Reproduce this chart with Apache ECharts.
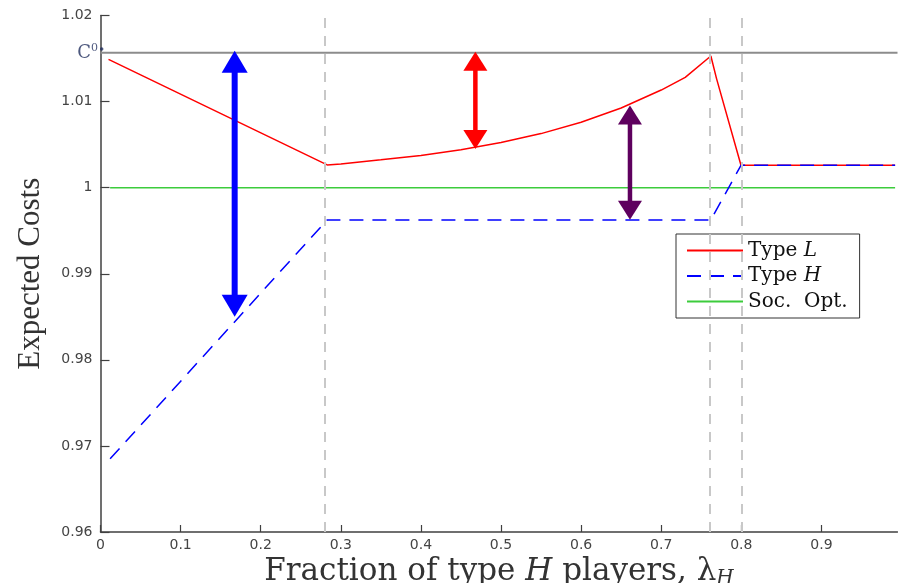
<!DOCTYPE html>
<html>
<head>
<meta charset="utf-8">
<script src="https://cdn.jsdelivr.net/npm/echarts@6/dist/echarts.min.js"></script>
<style>html,body{margin:0;padding:0;background:#fff}#c{width:898px;height:583px}</style>
</head>
<body>
<div id="c"></div>
<script>
// ---- data ----
const xTickValues = [0, 0.1, 0.2, 0.3, 0.4, 0.5, 0.6, 0.7, 0.8, 0.9];
const yTickValues = [0.96, 0.97, 0.98, 0.99, 1, 1.01, 1.02];

const typeLX = [0.01, 0.283, 0.3, 0.35, 0.4, 0.45, 0.5, 0.55, 0.6, 0.65, 0.7, 0.73, 0.762, 0.769, 0.7996, 0.992];
const typeLY = [1.0149, 1.00264, 1.00276, 1.00323, 1.00375, 1.00441, 1.00524, 1.00628, 1.0076, 1.00926, 1.01134, 1.01282, 1.0153, 1.0127, 1.0026, 1.0026];

const typeHX = [0.012, 0.283, 0.762, 0.7996, 0.992];
const typeHY = [0.9685, 0.99625, 0.99625, 1.0026, 1.0026];

const socOptX = [0.012, 0.992];
const socOptY = [1, 1];

const c0Value = 1.01568;
const c0LineX = [0, 0.995];
const c0MarkX = [0.0015];
const c0MarkY = [1.0161];
const regimeBounds = [0.284, 0.762, 0.8];

const arrowX = [0.1675, 0.468, 0.661];
const arrowLow = [0.985, 1.0045, 0.99627];
const arrowHigh = [1.0159, 1.0158, 1.00955];

// ---- styling ----
const arrowColors = ['#0000ff', '#ff0000', '#5e005e'];
const arrowShaft = [6, 4.5, 4.5];
const arrowHead = [[26, 22], [24, 19], [24, 19]];

const zip = (xs, ys) => xs.map((x, i) => [x, ys[i]]);

const chart = echarts.init(document.getElementById('c'), null, {renderer: 'canvas'});
const axisColor = '#404040';
const serif = 'Liberation Serif';
const wideSerif = 'DejaVu Serif';

chart.setOption({
  animation: false,
  backgroundColor: '#fff',
  grid: {left: 100.5, right: 0.5, top: 15.5, bottom: 51, containLabel: false, outerBoundsMode: 'none'},
  legend: {
    orient: 'vertical',
    left: 676, top: 234,
    backgroundColor: '#fff',
    borderColor: '#333', borderWidth: 1,
    padding: [6.5, 12, 6.5, 10],
    itemWidth: 56, itemHeight: 14, itemGap: 5.5,
    itemStyle: {opacity: 0},
    data: ['Type L', 'Type H', 'Soc. Opt.'],
    formatter: function (n) {
      if (n === 'Type L') return 'Type {i|L}';
      if (n === 'Type H') return 'Type {i|H}';
      return 'Soc.  Opt.';
    },
    textStyle: {
      fontFamily: wideSerif, fontSize: 20, lineHeight: 19, color: '#111',
      rich: {i: {fontFamily: wideSerif, fontSize: 20, fontStyle: 'italic', color: '#111'}}
    }
  },
  xAxis: {
    type: 'value', min: 0, max: 0.995, interval: 0.1,
    name: 'Fraction of type {i|H} players, {l|λ}{sub|H}',
    nameLocation: 'middle', nameGap: 15,
    nameTextStyle: {
      fontFamily: wideSerif, fontSize: 31, color: '#333',
      rich: {
        i: {fontFamily: wideSerif, fontSize: 31, fontStyle: 'italic', color: '#333'},
        l: {fontFamily: wideSerif, fontSize: 31, color: '#333'},
        sub: {fontFamily: wideSerif, fontSize: 20, fontStyle: 'italic', color: '#333', padding: [13, 0, 0, 0]}
      }
    },
    axisLine: {lineStyle: {color: axisColor, width: 1.5}},
    axisTick: {inside: true, length: 7, lineStyle: {color: axisColor, width: 1.2}, customValues: xTickValues},
    axisLabel: {color: '#444', fontFamily: 'DejaVu Sans', fontSize: 14, margin: 6, customValues: xTickValues},
    splitLine: {show: false}
  },
  yAxis: {
    type: 'value', min: 0.96, max: 1.02, interval: 0.01,
    name: 'Expected Costs', nameLocation: 'middle', nameGap: 54,
    nameTextStyle: {fontFamily: serif, fontSize: 31, color: '#333'},
    axisLine: {show: true, lineStyle: {color: axisColor, width: 1.5}},
    axisTick: {show: true, inside: true, length: 9, lineStyle: {color: axisColor, width: 1.2}, customValues: yTickValues},
    axisLabel: {color: '#444', fontFamily: 'DejaVu Sans', fontSize: 14, margin: 8, customValues: yTickValues,
      formatter: v => String(+v.toFixed(2))},
    splitLine: {show: false}
  },
  series: [
    {
      name: 'C0', type: 'line', symbol: 'none', z: 1, silent: true,
      data: c0LineX.map(x => [x, c0Value]),
      lineStyle: {color: '#8c8c8c', width: 2},
      markLine: {
        silent: true, symbol: 'none', animation: false,
        label: {show: false},
        lineStyle: {color: '#c8c8c8', width: 2, type: [10, 8]},
        data: regimeBounds.map(v => ({xAxis: v}))
      }
    },
    {
      name: 'C0 label', type: 'scatter', z: 6, silent: true,
      data: zip(c0MarkX, c0MarkY),
      symbol: 'circle', symbolSize: 3.5,
      itemStyle: {color: '#1f2d5c'},
      label: {
        show: true, position: 'left', distance: 2, offset: [0, 4],
        formatter: 'C{s|0}',
        fontFamily: wideSerif, fontSize: 18, color: '#1f2d5c',
        rich: {
          s: {fontFamily: wideSerif, fontSize: 11, color: '#1f2d5c', padding: [0, 0, 9, 0]}
        }
      }
    },
    {
      name: 'Soc. Opt.', type: 'line', symbol: 'none', z: 2,
      data: zip(socOptX, socOptY),
      lineStyle: {color: '#3ccc3c', width: 1.5},
      itemStyle: {color: '#3ccc3c'}
    },
    {
      name: 'Type L', type: 'line', symbol: 'none', z: 3,
      data: zip(typeLX, typeLY),
      lineStyle: {color: '#ff0000', width: 1.5},
      itemStyle: {color: '#ff0000'}
    },
    {
      name: 'Type H', type: 'line', symbol: 'none', z: 4,
      data: zip(typeHX, typeHY),
      lineStyle: {color: '#0000ff', width: 1.5, type: [14, 9]},
      itemStyle: {color: '#0000ff'}
    },
    {
      name: 'arrows', type: 'custom', z: 5, silent: true,
      data: arrowX.map((x, i) => [x, arrowLow[i], arrowHigh[i]]),
      encode: {x: 0, y: [1, 2]},
      renderItem: function (params, api) {
        const i = params.dataIndex;
        const top = api.coord([api.value(0), api.value(2)]);
        const bot = api.coord([api.value(0), api.value(1)]);
        const w = arrowHead[i][0], h = arrowHead[i][1];
        const col = arrowColors[i];
        const x = top[0];
        return {
          type: 'group',
          children: [
            {type: 'line', shape: {x1: x, y1: top[1] + h - 1, x2: x, y2: bot[1] - h + 1},
              style: {stroke: col, lineWidth: arrowShaft[i]}},
            {type: 'polygon', shape: {points: [[x, top[1]], [x - w / 2, top[1] + h], [x + w / 2, top[1] + h]]},
              style: {fill: col}},
            {type: 'polygon', shape: {points: [[x, bot[1]], [x - w / 2, bot[1] - h], [x + w / 2, bot[1] - h]]},
              style: {fill: col}}
          ]
        };
      }
    }
  ]
});
</script>
</body>
</html>
